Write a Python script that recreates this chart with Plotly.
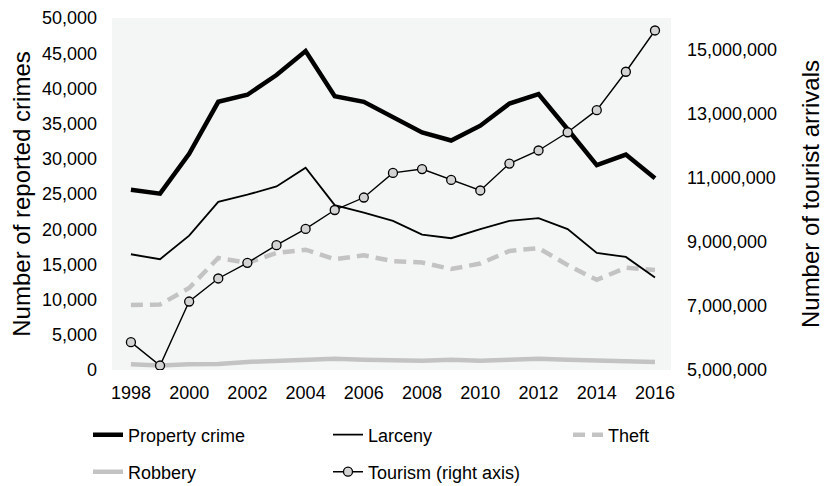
import plotly.graph_objects as go

years = list(range(1998, 2017))
property_crime = [25600, 25050, 30700, 38100, 39100, 41900, 45300, 38900, 38100, 36000,
                  33750, 32600, 34700, 37850, 39200, 34200, 29100, 30600, 27250]
larceny = [16440, 15740, 19090, 23880, 24900, 26070, 28720, 23420, 22350, 21180,
           19230, 18720, 20020, 21180, 21560, 20020, 16620, 16060, 13130]
theft = [9220, 9310, 11640, 15920, 15220, 16620, 17090, 15740, 16290, 15460,
         15270, 14340, 15130, 16900, 17320, 14900, 12800, 14530, 14200]
robbery = [800, 650, 800, 850, 1150, 1300, 1600, 1600, 1450, 1300,
           1300, 1450, 1300, 1450, 1600, 1450, 1300, 1250, 1150]
tourism = [5870000, 5140000, 7140000, 7860000, 8350000, 8900000, 9410000, 10000000, 10390000, 11160000,
           11280000, 10940000, 10610000, 11450000, 11860000, 12430000, 13120000, 14320000, 15610000]

x_ticks = list(range(1998, 2017, 2))
y_ticks = list(range(0, 50001, 5000))
y2_ticks = list(range(5000000, 15000001, 2000000))

FONT = "Liberation Sans, Arial, sans-serif"
GRAY = "#c3c3c3"

fig = go.Figure()
fig.add_trace(go.Scatter(x=years, y=robbery, name="Robbery", mode="lines",
                         line=dict(color=GRAY, width=4.5), legend="legend4"))
fig.add_trace(go.Scatter(x=years, y=theft, name="Theft", mode="lines",
                         line=dict(color=GRAY, width=4.5, dash="12px,7px"), legend="legend3"))
fig.add_trace(go.Scatter(x=years, y=larceny, name="Larceny", mode="lines",
                         line=dict(color="black", width=1.8), legend="legend2"))
fig.add_trace(go.Scatter(x=years, y=property_crime, name="Property crime", mode="lines",
                         line=dict(color="black", width=4.5), legend="legend"))
fig.add_trace(go.Scatter(x=years, y=tourism, name="Tourism (right axis)", mode="lines+markers",
                         yaxis="y2",
                         line=dict(color="black", width=1.4),
                         marker=dict(symbol="circle", size=9, color="#d3d3d3",
                                     line=dict(color="black", width=1.3)),
                         legend="legend5"))

W, H = 829, 486
OFF = 8  # the page body adds an 8px offset


def leg(px_x, px_y):
    return dict(orientation="h", xref="container", yref="container",
                x=(px_x - OFF) / W, y=1 - (px_y - OFF) / H, xanchor="left", yanchor="middle",
                font=dict(family=FONT, size=18, color="black"),
                bgcolor="rgba(0,0,0,0)", borderwidth=0)


fig.update_layout(
    width=W, height=H,
    margin=dict(l=112 - OFF, r=158 + OFF, t=18 - OFF, b=116 + OFF, pad=0, autoexpand=False),
    paper_bgcolor="white",
    plot_bgcolor="#f4f6f6",
    font=dict(family=FONT, size=18, color="black"),
    showlegend=True,
    legend=leg(88, 435),
    legend2=leg(328, 435),
    legend3=leg(568, 435),
    legend4=leg(88, 472),
    legend5=leg(328, 472),
    xaxis=dict(range=[1997.35, 2016.55], tickvals=x_ticks, showgrid=False, zeroline=False,
               showline=False, ticks="", ticklabelstandoff=10, automargin=False,
               tickfont=dict(family=FONT, size=18, color="black")),
    yaxis=dict(range=[0, 50000], tickvals=y_ticks, tickformat=",d", showgrid=False,
               zeroline=False, showline=False, ticks="", ticklabelstandoff=14, automargin=False,
               ticklabeloverflow="allow",
               tickfont=dict(family=FONT, size=18, color="black"),
               title=dict(text="Number of reported crimes", standoff=18,
                          font=dict(family=FONT, size=24, color="black"))),
    yaxis2=dict(range=[5000000, 16000000], tickvals=y2_ticks, tickformat=",d", overlaying="y",
                side="right", showgrid=False, zeroline=False, showline=False, ticks="",
                ticklabelstandoff=15, automargin=False, ticklabeloverflow="allow",
                tickfont=dict(family=FONT, size=18, color="black"),
                title=dict(text="Number of tourist arrivals", standoff=26,
                           font=dict(family=FONT, size=24, color="black"))),
)

fig.write_html("out.html")
